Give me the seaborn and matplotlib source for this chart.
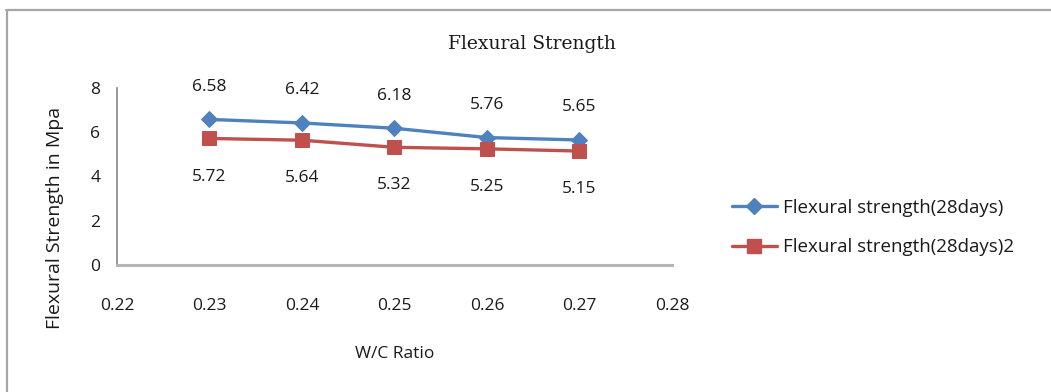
import matplotlib
matplotlib.use("Agg")
import matplotlib.pyplot as plt
import seaborn as sns
import pandas as pd
from matplotlib.lines import Line2D

sns.set_theme(style="white")
plt.rcParams['font.family'] = ['Open Sans', 'DejaVu Sans']

# Water/cement ratios and 28-day flexural strengths (MPa)
wc_ratio = [0.23, 0.24, 0.25, 0.26, 0.27]
strength_a = [6.58, 6.42, 6.18, 5.76, 5.65]
strength_b = [5.72, 5.64, 5.32, 5.25, 5.15]
series_names = ["Flexural strength(28days)", "Flexural strength(28days)2"]
x_ticks = [0.22, 0.23, 0.24, 0.25, 0.26, 0.27, 0.28]
y_ticks = [0, 2, 4, 6, 8]

blue = "#4F81BD"
red = "#C0504D"
axis_gray = "#868686"
text_col = "#1a1a1a"
fs = 12.5

df = pd.DataFrame({
    "wc": wc_ratio * 2,
    "strength": strength_a + strength_b,
    "series": [series_names[0]] * len(wc_ratio) + [series_names[1]] * len(wc_ratio),
})

fig = plt.figure(figsize=(10.51, 3.92), dpi=100)
ax = fig.add_axes([0.1113, 0.324, 0.528, 0.4515])

sns.lineplot(data=df[df.series == series_names[0]], x="wc", y="strength",
             color=blue, marker="D", markersize=8.5, markeredgecolor=blue,
             linewidth=2.4, ax=ax, legend=False)
sns.lineplot(data=df[df.series == series_names[1]], x="wc", y="strength",
             color=red, marker="s", markersize=10, markeredgecolor=red,
             linewidth=2.4, ax=ax, legend=False)

# Value labels: upper series above, lower series below
for x, v in zip(wc_ratio, strength_a):
    ax.annotate(f"{v:.2f}", (x, v), xytext=(0, 23.5), textcoords="offset points",
                ha="center", va="center", fontsize=fs, color=text_col)
for x, v in zip(wc_ratio, strength_b):
    ax.annotate(f"{v:.2f}", (x, v), xytext=(0, -27.5), textcoords="offset points",
                ha="center", va="center", fontsize=fs, color=text_col)

ax.set_xlim(0.22, 0.28)
ax.set_ylim(0, 8)
ax.set_xticks(x_ticks)
ax.set_xticklabels([f"{t:.2f}" for t in x_ticks])
ax.set_yticks(y_ticks)
ax.set_yticklabels([str(t) for t in y_ticks])
ax.tick_params(axis="both", direction="out", length=5, width=1.2, color=axis_gray,
               labelsize=fs, labelcolor=text_col)
ax.tick_params(axis="x", pad=19)
ax.tick_params(axis="y", pad=7)
for side in ["top", "right"]:
    ax.spines[side].set_visible(False)
ax.spines["left"].set_color(axis_gray)
ax.spines["left"].set_linewidth(1.2)
ax.spines["bottom"].set_linewidth(2.2)
ax.spines["bottom"].set_color("#b5b5b5")

ax.set_xlabel("W/C Ratio", fontsize=fs, color=text_col, labelpad=23)
ax.set_ylabel("Flexural Strength in Mpa", fontsize=14, color=text_col)
ax.yaxis.set_label_coords(-0.095, 0.266)
ax.set_facecolor("white")

fig.text(0.506, 0.887, "Flexural Strength", ha="center", va="center",
         fontsize=13.5, family=["DejaVu Serif"], color=text_col)

handles = [
    Line2D([], [], color=blue, marker="D", markersize=8.5, linewidth=2.4),
    Line2D([], [], color=red, marker="s", markersize=10, linewidth=2.4),
]
fig.legend(handles, series_names, loc="center left", bbox_to_anchor=(0.680, 0.42),
           frameon=False, fontsize=13.5, labelspacing=1.15, handlelength=2.4,
           handletextpad=0.35, labelcolor=text_col)

# Outer frame: top and left edges
fig.add_artist(Line2D([0.006, 1.0], [0.974, 0.974], transform=fig.transFigure,
                      color="#a6a6a6", linewidth=1.6))
fig.add_artist(Line2D([0.0062, 0.0062], [0.0, 0.974], transform=fig.transFigure,
                      color="#a6a6a6", linewidth=1.6))

fig.savefig("out.png", dpi=100, facecolor="white")
